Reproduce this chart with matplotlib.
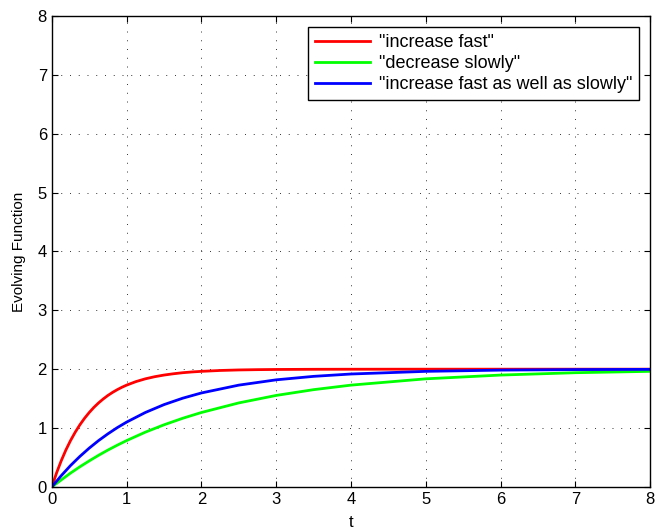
import matplotlib
matplotlib.use("Agg")
import matplotlib.pyplot as plt

# values
t_kirmizi = [0, 0.0625, 0.125, 0.1875, 0.25, 0.3125, 0.375, 0.4375, 0.5, 0.5625, 0.625,
             0.6875, 0.75, 0.8125, 0.875, 0.9375, 1, 1.125, 1.25, 1.375, 1.5, 1.625,
             1.75, 1.875, 2, 2.25, 2.5, 2.75, 3, 3.5, 4, 5, 6, 7, 8]
hizli_artan = [0, 0.235, 0.442, 0.626, 0.787, 0.929, 1.055, 1.166, 1.264, 1.351, 1.427,
               1.494, 1.554, 1.606, 1.652, 1.693, 1.729, 1.789, 1.836, 1.872, 1.900, 1.922,
               1.940, 1.953, 1.963, 1.978, 1.987, 1.992, 1.995, 1.998, 1.999, 2.0, 2.0, 2.0, 2.0]

t = [0, 0.125, 0.25, 0.375, 0.5, 0.625, 0.75, 0.875, 1, 1.25, 1.5, 1.75, 2,
     2.5, 3, 3.5, 4, 5, 6, 7, 8]
yavas_azalan = [0, 0.118, 0.235, 0.342, 0.442, 0.537, 0.626, 0.709, 0.787, 0.930,
                1.055, 1.166, 1.264, 1.427, 1.554, 1.652, 1.729, 1.836, 1.900, 1.940, 1.963]
hem_hizli_hem_yavas = [0, 0.190, 0.363, 0.518, 0.659, 0.787, 0.902, 1.007, 1.101, 1.264,
                       1.398, 1.507, 1.596, 1.729, 1.819, 1.878, 1.918, 1.963, 1.984, 1.993, 1.997]
etiketler = ['"increase fast"', '"decrease slowly"', '"increase fast as well as slowly"']

plt.rcParams['font.family'] = ['Liberation Sans', 'DejaVu Sans']

fig = plt.figure(figsize=(6.56, 5.31), dpi=100)
ax = fig.add_axes([0.079, 0.083, 0.912, 0.887])

ax.plot(t_kirmizi, hizli_artan, color=(1, 0, 0), lw=2, label=etiketler[0])
ax.plot(t, yavas_azalan, color=(0, 1, 0), lw=2, label=etiketler[1])
ax.plot(t, hem_hizli_hem_yavas, color=(0, 0, 1), lw=2, label=etiketler[2])

ax.set_xlim(0, 8)
ax.set_ylim(0, 8)
ax.set_xticks(range(0, 9))
ax.set_yticks(range(0, 9))
ax.tick_params(direction='in', top=True, right=True, labelsize=12, length=4)
ax.grid(True, color='#333333', linestyle=(0, (1, 8)), linewidth=0.7)
for s in ax.spines.values():
    s.set_linewidth(1.0)

ax.set_xlabel('t', fontsize=12, labelpad=6)
ax.set_ylabel('Evolving Function', fontsize=11, labelpad=8)

leg = ax.legend(loc='upper right', fontsize=13, fancybox=False, framealpha=1,
                edgecolor='black', borderaxespad=0.6, handlelength=3.0,
                handletextpad=0.5, labelspacing=0.22, borderpad=0.4)
leg.get_frame().set_linewidth(1.0)

fig.savefig('out.png', dpi=100)
